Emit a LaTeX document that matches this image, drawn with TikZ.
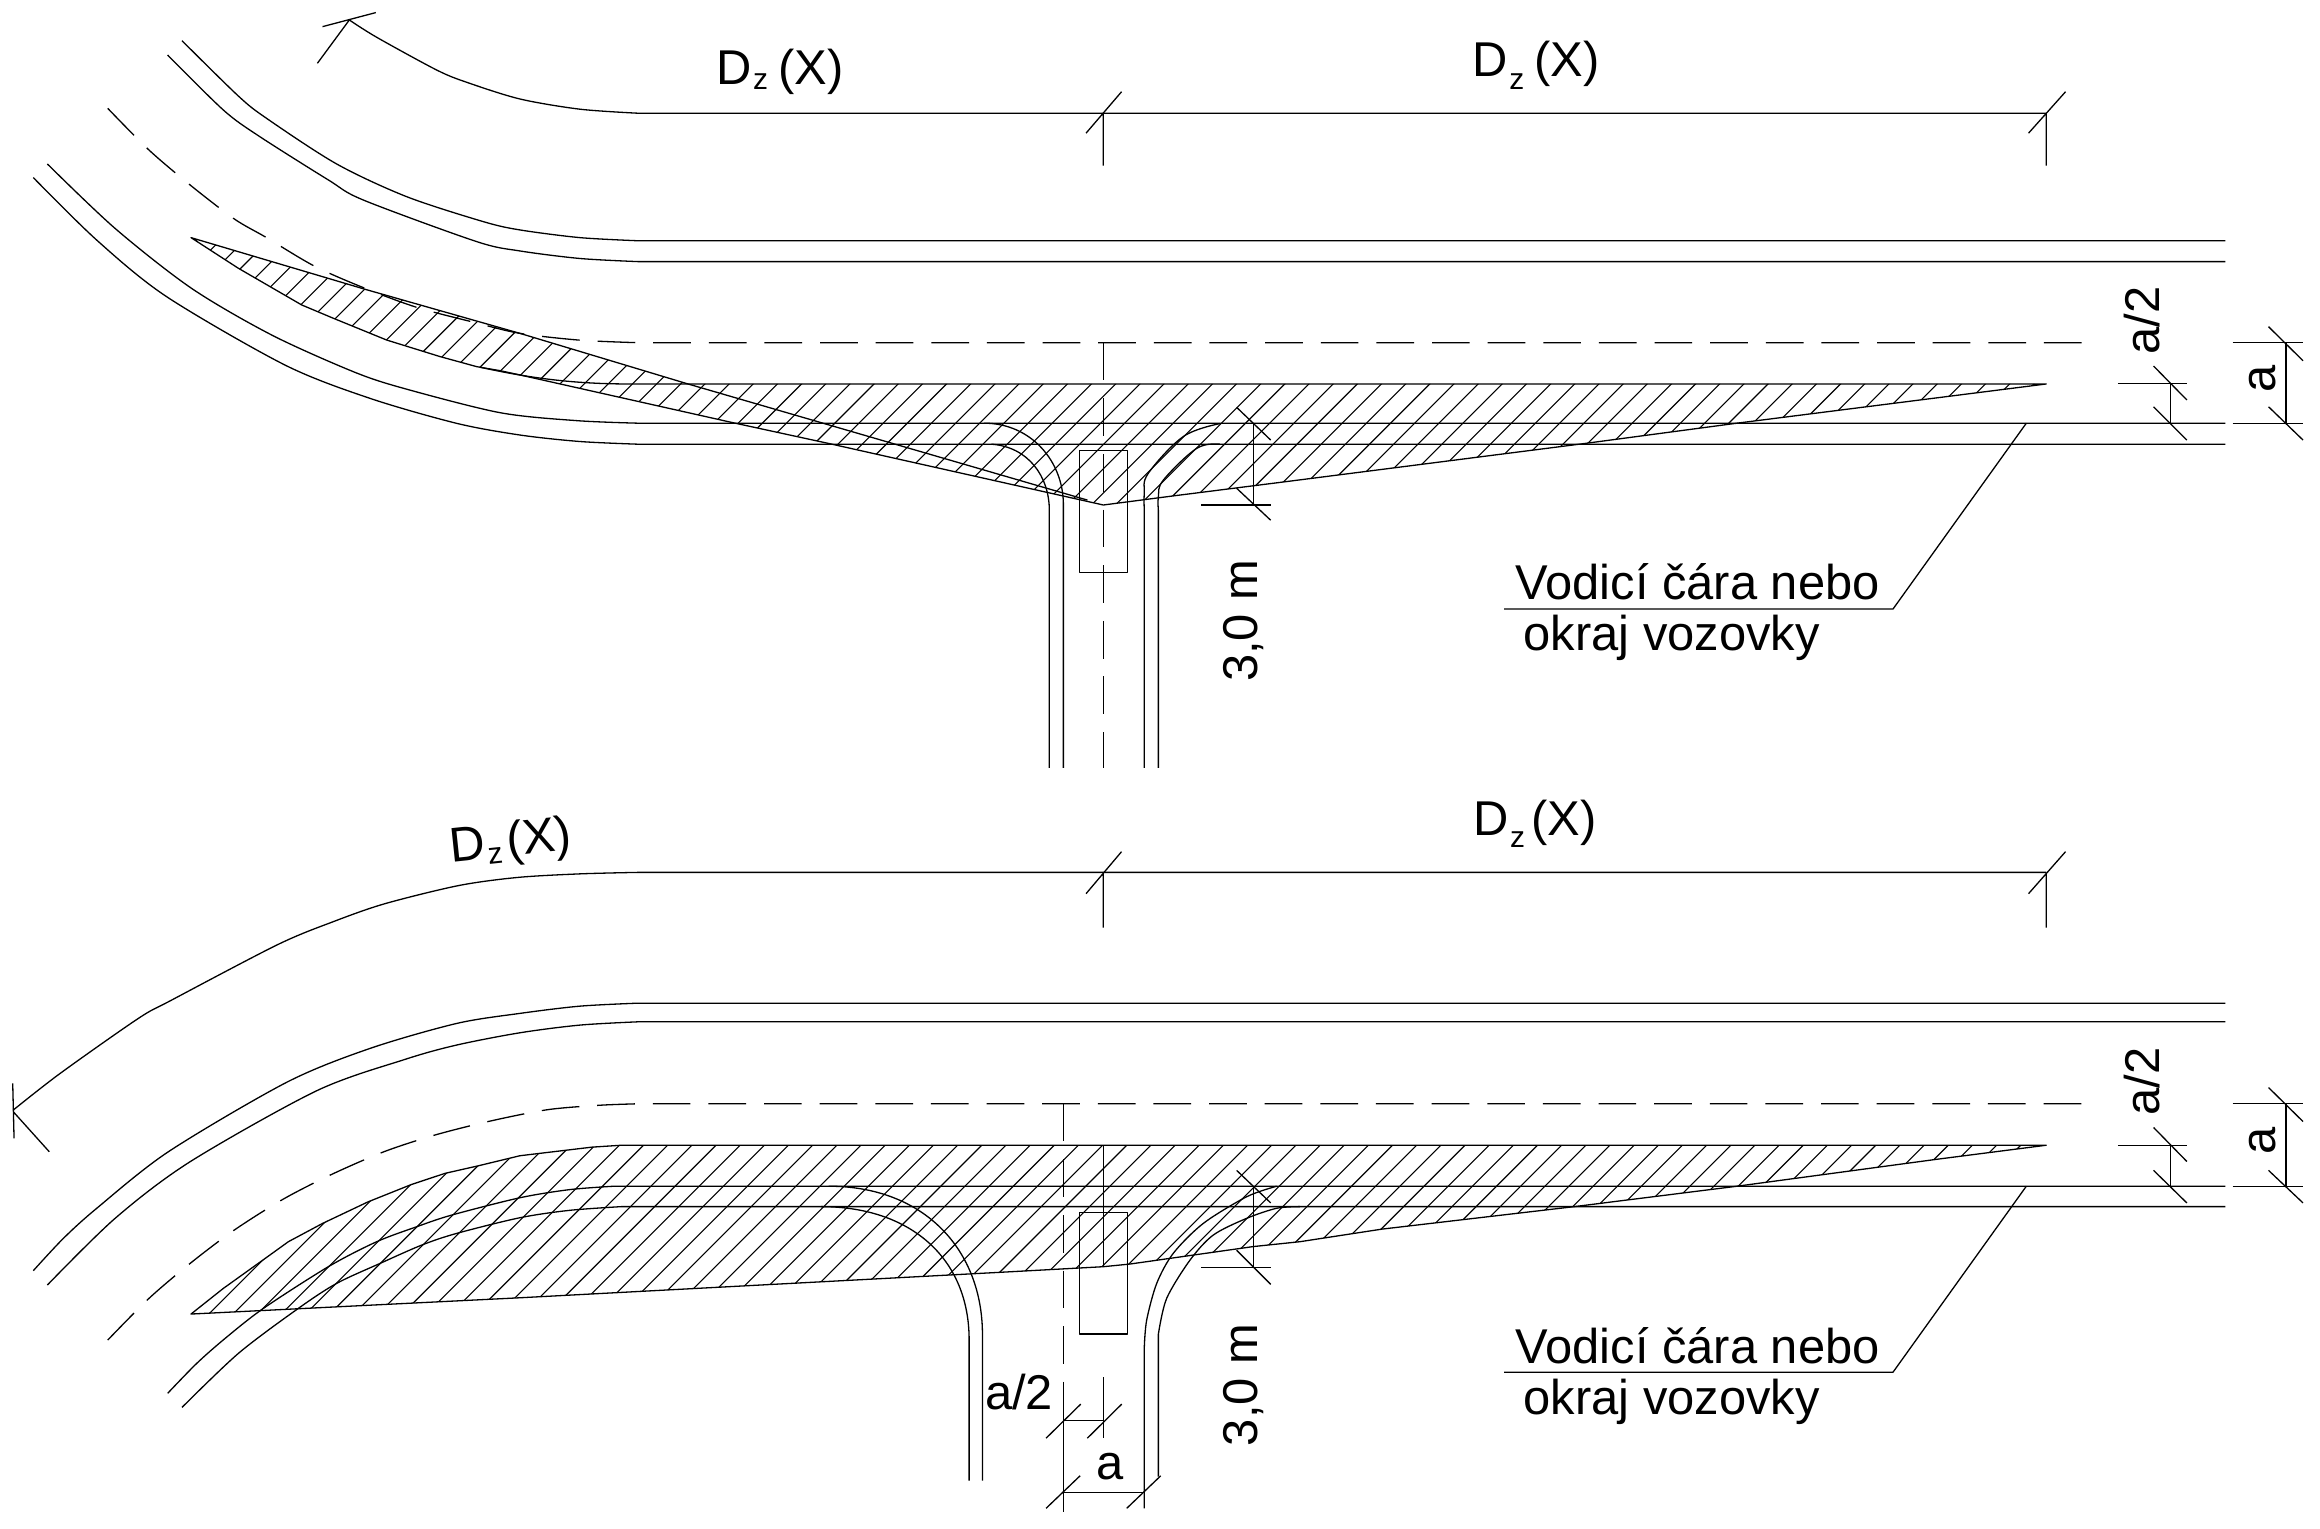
\documentclass[tikz,border=0pt]{standalone}
\usepackage{fontspec}
\setmainfont{Liberation Sans}
\newcommand{\labelfont}{\fontsize{18.8}{20}\selectfont}
% arguments: drop of the subscript, gap before the bracket
\newcommand{\Dzx}[2]{D\kern0.5pt\raisebox{-#1}{\fontsize{11.5}{12}\selectfont z}\kern#2(X)}
\tikzset{
  thinline/.style={line width=0.5pt,line join=round},
  dashline/.style={thinline,dash pattern=on 14.5pt off 6.9pt},
  hatchline/.style={line width=0.42pt},
  txt/.style={inner sep=0pt,font=\labelfont,anchor=base west},
  txtr/.style={inner sep=0pt,font=\labelfont,anchor=base,rotate=90}
}
\begin{document}
\begin{tikzpicture}[x=0.02cm,y=-0.02cm]
\useasboundingbox (0,0) rectangle (1568,1032.74);
%%%%%%%%%% TOP PANEL
\def\topzone{(129.1,160.6) -- (246.7,195.5) -- (351.4,225.3) -- (465,259.5) -- (1383,259.5) -- (1174,286) -- (1069,300) -- (868.5,325.6) -- (792.6,335.2) -- (745.7,341.3) -- (560,299.7) -- (495,285.6) -- (351.4,253.4) -- (337.9,250.5) -- (322.2,247.8) -- (297.4,241) -- (261.3,229.8) -- (225.3,215.1) -- (203.9,206.1) -- (161.1,181.3) -- cycle}
\begin{scope}
\clip \topzone;
\foreach \k in {0,...,85} {\pgfmathsetmacro\s{295+16.33*\k}\draw[hatchline] (\s,0) -- (\s-600,600);}
\end{scope}
\draw[thinline] \topzone;
\draw[thinline] (465,259.5) -- (735,338);
\draw[thinline] (325,248.3) .. controls (360,256) and (390,259.5) .. (425,259.5) -- (465,259.5);
% road
\draw[thinline] plot[smooth,tension=.5] coordinates {(123,27.5) (161.1,64.9) (180.2,80) (227.5,110.8) (274.8,132.9) (326.7,149.8) (351.4,155.4) (392,160.6) (431,162.7)} -- (1504,162.7);
\draw[thinline] plot[smooth,tension=.5] coordinates {(113.3,37.2) (150.9,74.3) (174.6,91.7) (221.9,121.6) (245.6,135.2) (322.2,163.3) (351.4,169.6) (392,174.7) (431,176.8)} -- (1504,176.8);
\draw[dashline] plot[smooth,tension=.5] coordinates {(72.8,73.2) (100.7,101.4) (129.1,125.5) (158.4,148) (179.8,160.4) (212.4,179.8) (245.6,194.4) (281.6,207.7) (321,218) (351.4,225.3) (392,229.9) (431,231.6)} -- (1413,231.6);
\draw[thinline] plot[smooth,tension=.5] coordinates {(32,110.8) (77.7,154.3) (129.5,194.9) (183.6,226.4) (238.8,251.2) (272.6,262.4) (337.9,278.9) (390,284.3) (431,286)} -- (1504,286);
\draw[thinline] plot[smooth,tension=.5] coordinates {(22.5,120) (65.3,162.2) (112.6,200.5) (192.6,246.7) (250,269.2) (308.6,286.1) (351.4,294) (392,298.4) (431,300.2)} -- (1504,300.2);
% side road
\draw[thinline] (665,286) .. controls (697,286) and (718.7,312) .. (718.7,341) -- (718.7,519);
\draw[thinline] (670,300.2) .. controls (695,302) and (709.2,322) .. (709.2,345) -- (709.2,519);
\draw[thinline] plot[smooth,tension=.6] coordinates {(773.4,345) (773.4,333.4) (776,320) (799.8,295) (824.5,286.3)} (773.4,345) -- (773.4,519);
\draw[thinline] plot[smooth,tension=.6] coordinates {(782.9,345) (782.9,335.6) (786.3,324.4) (808.8,303) (824.5,300.2)} (782.9,345) -- (782.9,519);
\draw[dashline] (745.7,231.6) -- (745.7,519);
\draw[thinline] (729.5,304.4) rectangle (761.9,386.8);
% dimensions
\draw[thinline] plot[smooth,tension=.5] coordinates {(236.1,13.5) (254.6,25.2) (295.1,47.3) (315.4,55.6) (351.4,66.9) (392,73.8) (431,76.5)} -- (1383,76.5);
\draw[thinline] (218,18) -- (254,8.5) (214.5,42.8) -- (236.1,13.5);
\draw[thinline] (758,62) -- (734,90) (745.7,76.5) -- (745.7,112);
\draw[thinline] (1396,62) -- (1371,90) (1383,76.5) -- (1383,112);
\draw[thinline] (1431.4,259) -- (1478,259) (1467,259) -- (1467,286);
\draw[thinline] (1455.5,247.4) -- (1478,270.3) (1455.5,275) -- (1478,297.4);
\draw[thinline] (1509,231.6) -- (1556.5,231.6) (1509,286) -- (1556.5,286) (1545,231.6) -- (1545,286);
\draw[thinline] (1533.2,220.8) -- (1556.5,243.8) (1533.2,274.9) -- (1556.5,297.4);
\draw[thinline] (847,286) -- (847,341.3) (811.7,341.3) -- (858.8,341.3);
\draw[thinline] (835.8,275.3) -- (858.8,297.4) (835.8,330) -- (858.8,351.6);
\draw[thinline] (1369.5,286) -- (1279.4,411.6) -- (1016.5,411.6);
\node[txt] (t1) at (484,57) {\Dzx{2pt}{4pt}};
\node[txt] (t2) at (995,52) {\Dzx{4.7pt}{4pt}};
\node[txt] (t3) at (1024,405.5) {Vodicí čára nebo};
\node[txt] (t4) at (1029.4,439.3) {okraj vozovky};
\node[txtr] (t5) at (1459.4,216.8) {a/2};
\node[txtr] (t6) at (1537.6,256.1) {a};
\node[txtr] (t7) at (850,419.5) {3,0 m};
%%%%%%%%%% BOTTOM PANEL
\def\botzone{(129.1,888.1) -- (150.9,870.8) -- (180.2,849.8) -- (194.9,839.2) -- (218.1,826.8) -- (248.9,812.2) -- (278.2,800.5) -- (300.8,793) -- (323.3,787.9) -- (351.4,781.1) -- (400,775.3) -- (420,774) -- (1383,774) -- (1309,783.5) -- (1174,801.7) -- (1064,815.5) -- (934,830.7) -- (878.6,839.2) -- (847,842.5) -- (763.7,854.3) -- (745.7,856.1) -- (675.8,859.9) -- (351.4,877.1) -- cycle}
\begin{scope}
\clip \botzone;
\foreach \k in {0,...,84} {\pgfmathsetmacro\s{817+16.33*\k}\draw[hatchline] (\s,0) -- (\s-1000,1000);}
\end{scope}
\draw[thinline] \botzone;
\draw[thinline] plot[smooth,tension=.5] coordinates {(22.5,858.8) (42.8,837) (65.3,816.7) (113.8,778.4) (193.7,731.5) (250,708.6) (308.6,691.7) (351.4,684.9) (392,680) (431,678)} -- (1504,678);
\draw[thinline] plot[smooth,tension=.5] coordinates {(32,868.5) (77.7,823.5) (128.4,785.2) (214,737.2) (273.7,716) (308.6,706.3) (351.4,698) (392,692.8) (431,690.6)} -- (1504,690.6);
\draw[dashline] plot[smooth,tension=.5] coordinates {(72.8,905.7) (100.7,877.5) (129.1,853.4) (158.4,831.3) (191.5,810.4) (224.2,793.7) (259.5,778.4) (294,767.1) (331.2,757.7) (370,750) (405,747) (431,746)} -- (1413,746);
\draw[thinline] plot[smooth,tension=.5] coordinates {(113.3,941.7) (132.9,921.5) (152.1,904.6) (178,884.3) (221.9,856.1) (254.6,839.2) (281.6,829.1) (305.3,821.2) (351.4,809.5) (385,804) (415,801.7)} -- (1504,801.7);
\draw[thinline] plot[smooth,tension=.5] coordinates {(123,951.2) (161.1,914.7) (201.6,884.3) (227.5,867.4) (256.8,853.9) (285,841.5) (308.6,833.6) (351.4,823) (385,818) (420,815.5)} -- (1504,815.5);
\draw[thinline] (560,801.7) .. controls (625,801.7) and (664,845) .. (664,902) -- (664,1000.7);
\draw[thinline] (555,815.5) .. controls (615,815.5) and (655,850) .. (655,905.6) -- (655,1000.7);
\draw[thinline] plot[smooth,tension=.5] coordinates {(773.4,910.2) (775,892.1) (781.8,867.3) (793,847) (813.3,826.8) (842.6,808.8) (862.9,801.7)} (773.4,910.2) -- (773.4,1019.4);
\draw[thinline] plot[smooth,tension=.5] coordinates {(782.9,901.6) (788.5,877.5) (804.3,851.6) (820,834.7) (842.6,823.4) (862.9,816.6) (878.6,815.5)} (782.9,901.6) -- (782.9,998);
\draw[dashline] (718.9,746) -- (718.9,934);
\draw[thinline] (718.9,934) -- (718.9,1022);
\draw[thinline] (745.7,774) -- (745.7,856.1);
\draw[thinline] (729.5,819.3) rectangle (761.9,901.6);
% dimensions
\draw[thinline] plot[smooth,tension=.5] coordinates {(9,750.2) (40.6,725.5) (93.5,688.3) (116,675.9) (187.5,638.5) (225,623) (260,610.8) (310,598.5) (350,593) (392,590.6) (431,589.6)} -- (1383,589.6);
\draw[thinline] (8.6,732.2) -- (9.5,769.4) (9,751.4) -- (33.3,778.4);
\draw[thinline] (758,575.6) -- (734,604) (745.7,589.6) -- (745.7,627);
\draw[thinline] (1396,575.6) -- (1371,604) (1383,589.6) -- (1383,627);
\draw[thinline] (745.7,930.9) -- (745.7,972) (718.9,960) -- (745.7,960);
\draw[thinline] (707,972) -- (730.4,949) (734.9,972) -- (758.1,949);
\draw[thinline] (718.9,1008.6) -- (773.4,1008.6);
\draw[thinline] (707,1019.4) -- (730,997.4) (761.5,1019.4) -- (784.5,997.4);
\draw[thinline] (1431.4,774) -- (1478,774) (1467,774) -- (1467,801.7);
\draw[thinline] (1455.5,762) -- (1478,785) (1455.5,791) -- (1478,813);
\draw[thinline] (1509,746) -- (1556.5,746) (1509,801.7) -- (1556.5,801.7) (1545,746) -- (1545,801.7);
\draw[thinline] (1533.2,735) -- (1556.5,758) (1533.2,791) -- (1556.5,813);
\draw[thinline] (847,801.7) -- (847,856.7) (811.7,856.7) -- (858.8,856.7);
\draw[thinline] (835.8,791) -- (858.8,813) (835.8,845) -- (858.8,868);
\draw[thinline] (1369.5,801.7) -- (1279.4,927.4) -- (1016.5,927.4);
\node[inner sep=0pt,font=\labelfont,anchor=center,rotate=6] (b1) at (345.5,570) {\Dzx{2.5pt}{2pt}};
\node[txt] (b2) at (995.5,564.5) {\Dzx{4.7pt}{2.5pt}};
\node[txt] (b3) at (1024,921.5) {Vodicí čára nebo};
\node[txt] (b4) at (1029.4,956) {okraj vozovky};
\node[txtr] (b5) at (1459.4,731) {a/2};
\node[txtr] (b6) at (1537.6,771) {a};
\node[txtr] (b7) at (850,936) {3,0 m};
\node[inner sep=0pt,font=\labelfont,anchor=base east] (b8) at (712,952.5) {a/2};
\node[txt] (b9) at (740.5,999.6) {a};
\end{tikzpicture}
\end{document}
